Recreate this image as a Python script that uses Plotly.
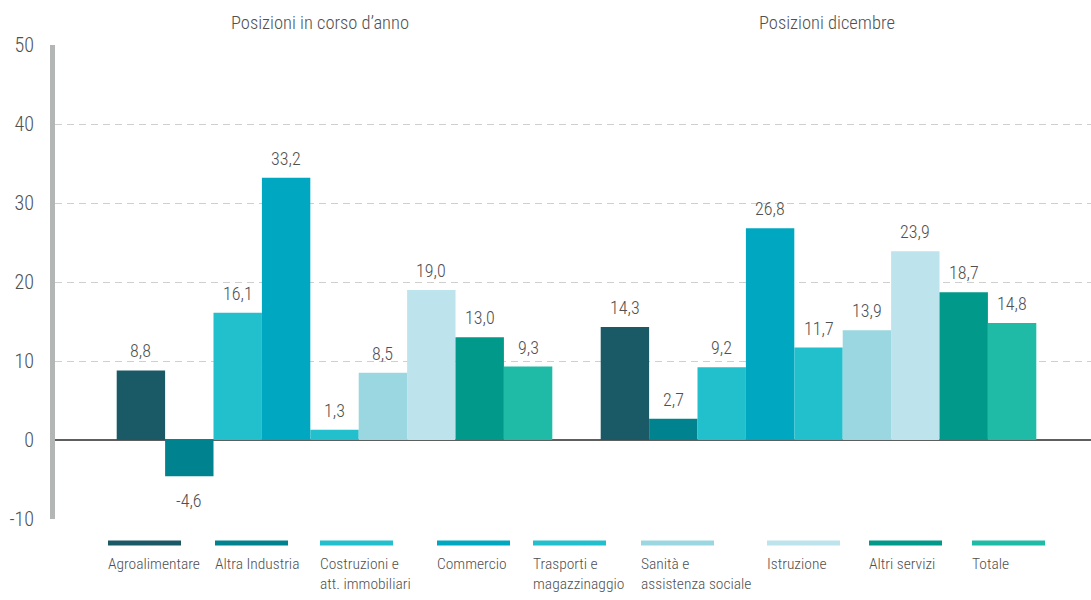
import plotly.graph_objects as go

# Reference periods (one bar group each)
groups = ["Posizioni in corso d’anno", "Posizioni dicembre"]

# Sectors, in drawing order
sectors = [
    "Agroalimentare",
    "Altra Industria",
    "Costruzioni e<br>att. immobiliari",
    "Commercio",
    "Trasporti e<br>magazzinaggio",
    "Sanità e<br>assistenza sociale",
    "Istruzione",
    "Altri servizi",
    "Totale",
]

# Percentage change per sector: [in corso d'anno, dicembre]
agroalimentare = [8.8, 14.3]
altra_industria = [-4.6, 2.7]
costruzioni = [16.1, 9.2]
commercio = [33.2, 26.8]
trasporti = [1.3, 11.7]
sanita = [8.5, 13.9]
istruzione = [19.0, 23.9]
altri_servizi = [13.0, 18.7]
totale = [9.3, 14.8]

series = [agroalimentare, altra_industria, costruzioni, commercio, trasporti,
          sanita, istruzione, altri_servizi, totale]

colors = ["#1a5a66", "#00838f", "#22bfcd", "#00a7c0", "#22bfcd",
          "#9bd7e1", "#bde3ec", "#00998a", "#1fbba6"]

# y-axis ticks
y_ticks = [-10, 0, 10, 20, 30, 40, 50]
y_ticktext = ["-10", "0", "10", "20", "30", "40", "50"]

FONT = "Roboto Condensed, Liberation Sans Narrow, sans-serif"
TEXT = "#505050"
WEIGHT = 300

W, H = 1091, 600
ML, MR, MT, MB = 55, 0, 45, 81
PW, PH = W - ML - MR, H - MT - MB

BARGAP = 0.1
n = len(series)
bar_w = (1 - BARGAP) / n

fig = go.Figure()
annotations = []
for i, (name, vals, col) in enumerate(zip(sectors, series, colors)):
    fig.add_trace(go.Bar(
        x=[0, 1], y=vals, name=name.replace("<br>", " "),
        marker=dict(color=col, line=dict(width=0)),
        showlegend=False, hoverinfo="y+name",
    ))
    # value labels above (or below) each bar
    for g, v in enumerate(vals):
        xc = g - (1 - BARGAP) / 2 + bar_w * (i + 0.5)
        annotations.append(dict(
            x=xc, y=v, xref="x", yref="y",
            text=f"{v:.1f}".replace(".", ","), showarrow=False,
            yanchor="bottom" if v >= 0 else "top",
            yshift=7 if v >= 0 else -12,
            font=dict(family=FONT, size=18, color=TEXT, weight=WEIGHT),
        ))

# Group titles above the plot
title_center_px = [320, 827]
for cx, g in zip(title_center_px, groups):
    annotations.append(dict(
        x=(cx - ML) / PW, y=1, xref="paper", yref="paper",
        xanchor="center", yanchor="bottom", yshift=9, showarrow=False,
        text=g, font=dict(family=FONT, size=18.5, color=TEXT, weight=WEIGHT),
    ))

# Legend drawn below the plot: colour strip above each label
legend_left_px = [108, 215, 320, 437, 533, 641, 767, 869, 972]
strip_len = 73
shapes = []
for lx, name, col in zip(legend_left_px, sectors, colors):
    x0 = (lx - ML) / PW
    x1 = (lx + strip_len - ML) / PW
    yl = (H - MB - 543) / PH
    shapes.append(dict(type="line", xref="paper", yref="paper",
                       x0=x0, x1=x1, y0=yl, y1=yl,
                       line=dict(color=col, width=5)))
    annotations.append(dict(
        x=x0 - 2 / PW, y=(H - MB - 553) / PH, xref="paper", yref="paper",
        xanchor="left", yanchor="top", align="left", showarrow=False,
        text=name, font=dict(family=FONT, size=15.5, color=TEXT, weight=WEIGHT),
    ))

fig.update_layout(
    width=W, height=H,
    margin=dict(l=ML, r=MR, t=MT, b=MB, pad=0),
    paper_bgcolor="white", plot_bgcolor="white",
    barmode="group", bargap=BARGAP, bargroupgap=0,
    font=dict(family=FONT, color=TEXT, weight=WEIGHT),
    shapes=shapes, annotations=annotations,
    xaxis=dict(
        tickmode="array", tickvals=[0, 1], showticklabels=False,
        range=[-0.5775, 1.563], showgrid=False, zeroline=False,
        showline=False, ticks="",
    ),
    yaxis=dict(
        range=[-10, 50], tickmode="array", tickvals=y_ticks, ticktext=y_ticktext,
        showgrid=True, gridcolor="#cfcfcf", gridwidth=1.2, griddash="7px,5px",
        zeroline=True, zerolinecolor="#5e5e5e", zerolinewidth=1.5,
        showline=True, linecolor="#b4b6b6", linewidth=5,
        ticks="", ticklabelstandoff=12,
        tickfont=dict(family=FONT, size=20, color=TEXT, weight=WEIGHT),
    ),
)

fig.write_html("out.html")
